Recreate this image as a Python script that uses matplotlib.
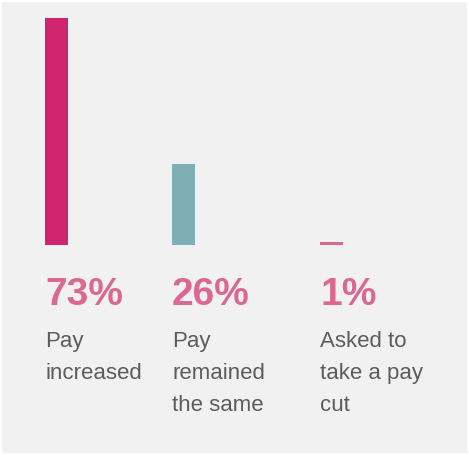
import matplotlib
matplotlib.use("Agg")
import matplotlib.pyplot as plt
from matplotlib.patches import Rectangle

categories = ["Pay\nincreased", "Pay\nremained\nthe same", "Asked to\ntake a pay\ncut"]
values = [73, 26, 1]
value_labels = ["73%", "26%", "1%"]
bar_colors = ["#d0246f", "#7eafb4", "#dc6891"]

W, H = 469, 456
fig = plt.figure(figsize=(W / 100, H / 100), dpi=100)
fig.patch.set_facecolor("white")
bg = Rectangle((2 / W, 2 / H), 465 / W, 451 / H, transform=fig.transFigure,
               facecolor="#f1f1f1", edgecolor="none", zorder=-5)
fig.patches.append(bg)

# bar area: baseline near y=246px, 73% top near 19px
base_px, top_px = 246, 19
ax = fig.add_axes([0, (H - base_px) / H, 1, (base_px - top_px) / H])
ax.set_zorder(2)
ax.patch.set_alpha(0)
ax.set_xlim(0, W)
ax.set_ylim(0, 73)
ax.axis("off")

lefts = [45, 172, 320]
bw = 23
ax.bar([l + bw / 2 for l in lefts], values, width=bw, color=bar_colors)

font = "Liberation Sans"
for l, vl, cat in zip(lefts, value_labels, categories):
    fig.text(l / W, (H - 305) / H, vl, fontsize=28, fontweight="bold",
             color="#dc6891", family=font, ha="left", va="baseline")
    for i, line in enumerate(cat.split("\n")):
        fig.text(l / W, (H - 347 - 32 * i) / H, line, fontsize=16, color="#5c5c5c",
                 family=font, ha="left", va="baseline")

fig.savefig("out.png", dpi=100, facecolor=fig.get_facecolor())
